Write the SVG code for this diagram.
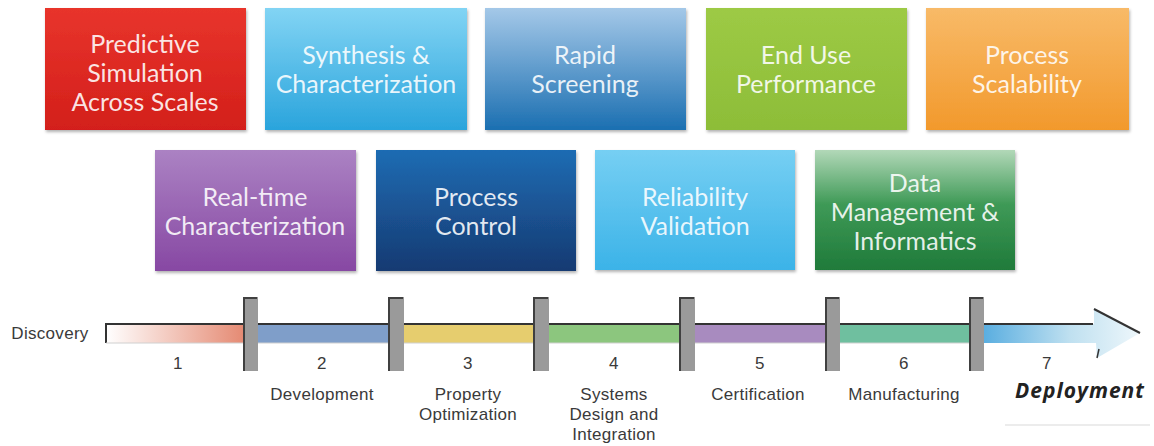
<svg xmlns="http://www.w3.org/2000/svg" width="1154" height="446" viewBox="0 0 1154 446">
<defs>
<linearGradient id="gRed" x1="0" y1="0" x2="0" y2="1"><stop offset="0" stop-color="#e8342c"/><stop offset="1" stop-color="#d31f1a"/></linearGradient>
<linearGradient id="gSky" x1="0" y1="0" x2="0" y2="1"><stop offset="0" stop-color="#82d4f4"/><stop offset="1" stop-color="#2aa4dc"/></linearGradient>
<linearGradient id="gBlue" x1="0" y1="0" x2="0" y2="1"><stop offset="0" stop-color="#a4c8e8"/><stop offset="1" stop-color="#1b6fb1"/></linearGradient>
<linearGradient id="gLime" x1="0" y1="0" x2="0" y2="1"><stop offset="0" stop-color="#9dca45"/><stop offset="1" stop-color="#8dbd38"/></linearGradient>
<linearGradient id="gOrange" x1="0" y1="0" x2="0" y2="1"><stop offset="0" stop-color="#f8ba68"/><stop offset="1" stop-color="#f2992c"/></linearGradient>
<linearGradient id="gPurple" x1="0" y1="0" x2="0" y2="1"><stop offset="0" stop-color="#ab82c3"/><stop offset="1" stop-color="#8748a3"/></linearGradient>
<linearGradient id="gNavy" x1="0" y1="0" x2="0" y2="1"><stop offset="0" stop-color="#1f6cb3"/><stop offset="1" stop-color="#163a72"/></linearGradient>
<linearGradient id="gSky2" x1="0" y1="0" x2="0" y2="1"><stop offset="0" stop-color="#76cff3"/><stop offset="1" stop-color="#3bb3e8"/></linearGradient>
<linearGradient id="gGreen" x1="0" y1="0" x2="0" y2="1"><stop offset="0" stop-color="#b2d8b8"/><stop offset="0.45" stop-color="#3f9a57"/><stop offset="1" stop-color="#1f7a3a"/></linearGradient>
<linearGradient id="gSeg1" x1="0" y1="0" x2="1" y2="0"><stop offset="0" stop-color="#ffffff"/><stop offset="1" stop-color="#e58a73"/></linearGradient>
<linearGradient id="gSeg7" x1="0" y1="0" x2="1" y2="0"><stop offset="0" stop-color="#5aaee0"/><stop offset="0.55" stop-color="#bfe0f0"/><stop offset="1" stop-color="#eef7fb"/></linearGradient>
<filter id="sh" x="-5%" y="-5%" width="110%" height="115%"><feDropShadow dx="1" dy="2" stdDeviation="1.5" flood-color="#000" flood-opacity="0.3"/></filter>
<style>
.bx{filter:url(#sh)}
.bt{font-family:Lato,"Open Sans","Liberation Sans",sans-serif;font-size:25px;fill:#ffffff;fill-opacity:0.88;text-anchor:middle}
.tl{font-family:"Liberation Sans",Arial,sans-serif;font-size:17px;fill:#3a3a3a;text-anchor:middle;letter-spacing:0.3px}
.sep{fill:#9a9a9a;stroke:none}
.sepe{fill:none;stroke:#404040;stroke-width:2}
</style>
</defs>
<rect width="1154" height="446" fill="#ffffff"/>

<g id="node-predictive"><rect class="bx" x="45" y="8" width="201" height="122" fill="url(#gRed)"/>
<text class="bt" x="145" y="53">Predictive</text><text class="bt" x="145" y="82">Simulation</text><text class="bt" x="145" y="111">Across Scales</text></g>
<g id="node-synthesis"><rect class="bx" x="265" y="8" width="202" height="122" fill="url(#gSky)"/>
<text class="bt" x="366" y="64">Synthesis &amp;</text><text class="bt" x="366" y="93">Characterization</text></g>
<g id="node-rapid"><rect class="bx" x="485" y="8" width="201" height="122" fill="url(#gBlue)"/>
<text class="bt" x="585" y="64">Rapid</text><text class="bt" x="585" y="93">Screening</text></g>
<g id="node-enduse"><rect class="bx" x="706" y="8" width="201" height="122" fill="url(#gLime)"/>
<text class="bt" x="806" y="64">End Use</text><text class="bt" x="806" y="93">Performance</text></g>
<g id="node-scalability"><rect class="bx" x="926" y="8" width="203" height="122" fill="url(#gOrange)"/>
<text class="bt" x="1027" y="64">Process</text><text class="bt" x="1027" y="93">Scalability</text></g>

<g id="node-realtime"><rect class="bx" x="155" y="150" width="201" height="121" fill="url(#gPurple)"/>
<text class="bt" x="255" y="206">Real-time</text><text class="bt" x="255" y="235">Characterization</text></g>
<g id="node-control"><rect class="bx" x="376" y="150" width="200" height="121" fill="url(#gNavy)"/>
<text class="bt" x="476" y="206">Process</text><text class="bt" x="476" y="235">Control</text></g>
<g id="node-reliability"><rect class="bx" x="595" y="150" width="200" height="120" fill="url(#gSky2)"/>
<text class="bt" x="695" y="206">Reliability</text><text class="bt" x="695" y="235">Validation</text></g>
<g id="node-data"><rect class="bx" x="815" y="150" width="200" height="120" fill="url(#gGreen)"/>
<text class="bt" x="915" y="192">Data</text><text class="bt" x="915" y="221">Management &amp;</text><text class="bt" x="915" y="250">Informatics</text></g>

<g id="connectors">
<rect x="106" y="324" width="138" height="19" fill="url(#gSeg1)"/>
<rect x="257" y="324" width="132" height="19" fill="#7f9ec9"/>
<rect x="404" y="324" width="130" height="19" fill="#e6cd6e"/>
<rect x="549" y="324" width="131" height="19" fill="#8cc67e"/>
<rect x="695" y="324" width="131" height="19" fill="#a88bbf"/>
<rect x="840" y="324" width="131" height="19" fill="#6fbf9f"/>
<path d="M984,324 H1094 L1094,308 L1140,333 L1097,358 L1096,343 H984 Z" fill="url(#gSeg7)"/>
<path d="M106,343 V324 H1093" fill="none" stroke="#333" stroke-width="2"/>
<path d="M106,343 H980" fill="none" stroke="#d0d0d0" stroke-width="1"/>
<path d="M1094,309 L1140,333" fill="none" stroke="#333" stroke-width="2"/>
<path d="M1097,358 L1099,349" fill="none" stroke="#333" stroke-width="1.5"/>
<g>
<rect class="sep" x="243" y="297" width="15" height="74"/><path class="sepe" d="M244,371 V298 H257"/>
<rect class="sep" x="388" y="297" width="16" height="74"/><path class="sepe" d="M389,371 V298 H403"/>
<rect class="sep" x="533" y="297" width="16" height="74"/><path class="sepe" d="M534,371 V298 H548"/>
<rect class="sep" x="679" y="297" width="16" height="74"/><path class="sepe" d="M680,371 V298 H694"/>
<rect class="sep" x="825" y="297" width="15" height="74"/><path class="sepe" d="M826,371 V298 H839"/>
<rect class="sep" x="969" y="297" width="15" height="74"/><path class="sepe" d="M970,371 V298 H983"/>
</g>
<line x1="1005" y1="425" x2="1150" y2="425" stroke="#e6e6e6" stroke-width="1.5"/>
</g>

<g id="labels">
<text class="tl" x="50" y="339">Discovery</text>
<text class="tl" x="178" y="369">1</text>
<text class="tl" x="322" y="369">2</text>
<text class="tl" x="468" y="369">3</text>
<text class="tl" x="614" y="369">4</text>
<text class="tl" x="760" y="369">5</text>
<text class="tl" x="904" y="369">6</text>
<text class="tl" x="1047" y="369">7</text>
<text class="tl" x="322" y="400">Development</text>
<text class="tl" x="468" y="400">Property</text><text class="tl" x="468" y="420">Optimization</text>
<text class="tl" x="614" y="400">Systems</text><text class="tl" x="614" y="420">Design and</text><text class="tl" x="614" y="440">Integration</text>
<text class="tl" x="758" y="400">Certification</text>
<text class="tl" x="904" y="400">Manufacturing</text>
<text x="1080" y="398" font-family="'Open Sans','DejaVu Sans',sans-serif" font-size="21" font-weight="bold" font-style="italic" fill="#222" text-anchor="middle" letter-spacing="1">Deployment</text>
</g>
</svg>
